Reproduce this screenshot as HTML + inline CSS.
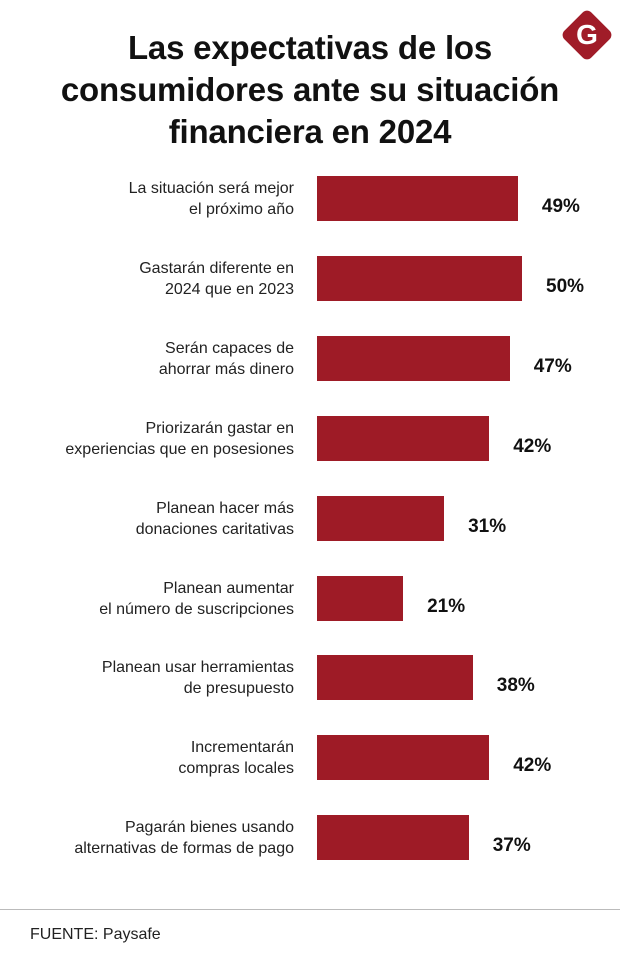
<!DOCTYPE html>
<html><head><meta charset="utf-8"><style>
body{margin:0;width:620px;height:976px;background:#fff;font-family:"Liberation Sans",sans-serif;overflow:hidden;position:relative}
#title{position:absolute;left:0;width:620px;top:27px;text-align:center;font-weight:bold;font-size:33px;line-height:42px;color:#111;letter-spacing:-0.2px}
#logo{position:absolute;left:568px;top:16px;width:38px;height:38px;background:#a01c28;transform:rotate(45deg);border-radius:6px}
#logoG{position:absolute;left:568px;top:15px;width:38px;height:40px;line-height:40px;text-align:center;color:#fff;font-weight:bold;font-size:28px}
.lbl{position:absolute;right:326px;text-align:right;font-size:16px;line-height:21px;color:#222}
.bar{position:absolute;left:317px;height:45px;background:#9e1b26}
.val{position:absolute;font-weight:bold;font-size:19px;color:#111;line-height:45px}
#rule{position:absolute;left:0;top:909px;width:620px;height:1px;background:#bbb}
#src{position:absolute;left:30px;top:926px;font-size:16px;color:#222}
</style></head><body>
<div id="title">Las expectativas de los<br>consumidores ante su situación<br>financiera en 2024</div>
<div id="logo"></div>
<div id="logoG">G</div>
<div id="chart"></div>
<div id="rule"></div>
<div id="src">FUENTE: Paysafe</div>
<script>
const categories=["La situación será mejor<br>el próximo año","Gastarán diferente en<br>2024 que en 2023","Serán capaces de<br>ahorrar más dinero","Priorizarán gastar en<br>experiencias que en posesiones","Planean hacer más<br>donaciones caritativas","Planean aumentar<br>el número de suscripciones","Planean usar  herramientas<br>de presupuesto","Incrementarán<br>compras locales","Pagarán bienes  usando<br>alternativas  de formas de pago"];
const values=[49,50,47,42,31,21,38,42,37];
const valueLabels=["49%","50%","47%","42%","31%","21%","38%","42%","37%"];
const x=v=>v*4.1;
const y=i=>176+i*79.9;
const c=document.getElementById('chart');
values.forEach((v,i)=>{
 const l=document.createElement('div');l.className='lbl';l.innerHTML=categories[i];
 l.style.top=(y(i)+2)+'px';
 
 
 c.appendChild(l);
 const b=document.createElement('div');b.className='bar';
 b.style.top=y(i)+'px';b.style.width=x(v)+'px';
 
 
 c.appendChild(b);
 const t=document.createElement('div');t.className='val';t.textContent=valueLabels[i];
 t.style.top=(y(i)+8)+'px';t.style.left=(317+x(v)+24)+'px';
 
 
 c.appendChild(t);
});
</script>
</body></html>
